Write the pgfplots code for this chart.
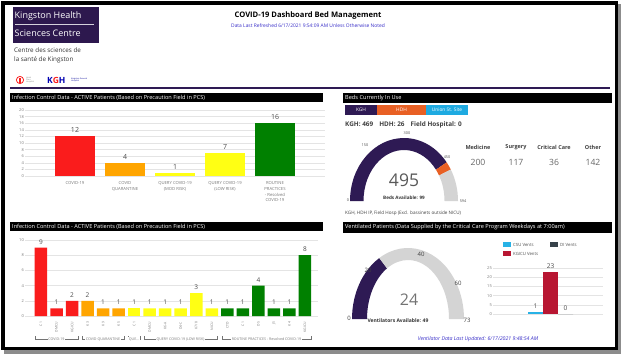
\documentclass[border=0pt]{standalone}
\usepackage{pgfplots}
\pgfplotsset{compat=1.18}
\usepackage{fontspec}
\setmainfont{Open Sans}
\definecolor{kpurple}{RGB}{46,26,84}
\definecolor{logopurple}{RGB}{45,24,78}
\definecolor{hdh}{RGB}{232,96,36}
\definecolor{union}{RGB}{30,170,225}
\definecolor{cRed}{RGB}{250,28,28}
\definecolor{cOrange}{RGB}{255,165,0}
\definecolor{cYellow}{RGB}{255,255,20}
\definecolor{cGreen}{RGB}{0,128,0}
\definecolor{gaugegray}{RGB}{212,212,212}
\definecolor{ventred}{RGB}{184,22,50}
\definecolor{csu}{RGB}{40,178,230}
\definecolor{di}{RGB}{55,66,74}
\definecolor{linkblue}{RGB}{55,45,200}
\definecolor{ticklab}{RGB}{120,120,120}
\definecolor{gridc}{RGB}{228,228,228}
\newcommand\fs[1]{\fontsize{#1}{#1}\selectfont}
\newcommand\gband[7]{\fill[#7] (#1:#3pt and #4pt) arc[start angle=#1, end angle=#2, x radius=#3pt, y radius=#4pt] -- (#2:#5pt and #6pt) arc[start angle=#2, end angle=#1, x radius=#5pt, y radius=#6pt] -- cycle;}
\pgfplotsset{dashax/.style={scale only axis, axis line style={draw=none}, tick style={draw=none},
  ymajorgrids, grid style={gridc, line width=0.4pt},
  yticklabel style={font=\fs{4}, text=ticklab, inner sep=1pt},
  /pgf/number format/assume math mode=true, ybar, clip=false,
  every node near coord/.append style={text=black!70}}}
\begin{document}
\begin{tikzpicture}[x=1pt,y=1pt]
\useasboundingbox (0,0) rectangle (624,360);
\fill[white] (0,0) rectangle (624,360);
% frame with shadow
\fill[black!45] (4,6) rectangle (621,356);
\fill[black] (1,10) rectangle (618,359);
\fill[white] (4.5,13.5) rectangle (614.5,355.5);
% logo
\fill[logopurple] (13,317) rectangle (99,353);
\node[anchor=west, text=white, font=\fs{9}, inner sep=0] at (14.5,344) {Kingston Health};
\draw[white!80!logopurple, line width=0.5] (15,335.5) -- (94,335.5);
\node[anchor=west, text=white, font=\fs{9}, inner sep=0] at (14.5,326.5) {Sciences Centre};
\node[anchor=west, text=black!80, font=\fs{6.3}, inner sep=0] at (14,310) {Centre des sciences de};
\node[anchor=west, text=black!80, font=\fs{6.3}, inner sep=0] at (14,300) {la santé de Kingston};
\draw[cRed, line width=0.8] (20,280) circle (3.6);
\fill[cRed] (19,277.5) rectangle (21,282);
\node[anchor=west, text=black!50, font=\fs{2}, align=left, inner sep=0] at (26,280) {Hotel\\Dieu\\Hospital};
\node[anchor=west, font=\bfseries\fs{8.5}, inner sep=0] at (47,280) {\textcolor{blue!70!black}{K}\textcolor{cRed}{G}\textcolor{blue!70!black}{H}};
\node[anchor=west, text=blue!60!black, font=\fs{2}, align=left, inner sep=0] at (71,280) {Kingston General\\Hospital};
% title
\node[font=\bfseries\fs{7.6}] at (308,344) {COVID-19 Dashboard Bed Management};
\node[font=\fs{4.9}, text=linkblue] at (308,334) {Data Last Refreshed 6/17/2021 9:54:09 AM Unless Otherwise Noted};
\draw[kpurple, line width=1.5] (10,272) -- (610,272);
% headers
\fill[black] (10,258) rectangle (323,267);
\node[anchor=west, text=white, font=\fs{5.6}, inner sep=0] at (12,262.5) {Infection Control Data - ACTIVE Patients (Based on Precaution Field in PCS)};
\fill[black] (10,129) rectangle (323,138);
\node[anchor=west, text=white, font=\fs{5.6}, inner sep=0] at (12,133.5) {Infection Control Data - ACTIVE Patients (Based on Precaution Field in PCS)};
\fill[black] (343,257) rectangle (612,267);
\node[anchor=west, text=white, font=\fs{5.6}, inner sep=0] at (345,262) {Beds Currently In Use};
\fill[black] (343,127) rectangle (612,138);
\node[anchor=west, text=white, font=\fs{5.6}, inner sep=0] at (345,132.5) {Ventilated Patients (Data Supplied by the Critical Care Program Weekdays at 7:00am)};
% site buttons
\fill[kpurple] (345,245) rectangle (377,255);
\node[text=white, font=\fs{4.8}] at (361,250) {KGH};
\fill[hdh] (377,245) rectangle (426,255);
\node[text=white, font=\fs{4.8}] at (401.5,250) {HDH};
\fill[union] (426,245) rectangle (468,255);
\node[text=white, font=\fs{4.8}] at (447,250) {Union St. Site};
\node[anchor=west, font=\bfseries\fs{6.4}, text=black!75, inner sep=0] at (345,235) {KGH: 469\hspace{6pt}HDH: 26\hspace{6pt}Field Hospital: 0};
% service cards
\foreach \xx/\lab/\val in {478/Medicine/200, 516/Surgery/117, 554/Critical Care/36, 593/Other/142}{
  \node[font=\bfseries\fs{5.5}, text=black!75] at (\xx,213) {\lab};
  \node[font=\fs{8.6}, text=black!60] at (\xx,198) {\val};
}
\node[anchor=west, font=\fs{4.6}, text=black!75, inner sep=0] at (345,147) {KGH, HDH IP, Field Hosp (Excl. bassinets outside NICU)};
\node[font=\itshape\fs{5.2}, text=linkblue] at (478,21) {Ventilator Data Last Updated: 6/17/2021 9:48:54 AM};

% ---------- top-left bar chart
\begin{axis}[dashax, at={(25pt,184pt)}, anchor=south west, width=300pt, height=66pt,
  xmin=-1, xmax=5, ymin=0, ymax=20, ytick={0,2,...,20}, xtick={0,...,4},
  bar width=40pt,
  xticklabels={COVID-19, {COVID\\QUARANTINE}, {QUERY COVID-19\\(MOD RISK)}, {QUERY COVID-19\\(LOW RISK)}, {ROUTINE\\PRACTICES\\- Resolved\\COVID-19}},
  xticklabel style={align=center, font=\fontsize{4.2}{5.8}\selectfont, text=ticklab, anchor=north, inner sep=1pt},
  nodes near coords, every node near coord/.append style={font=\fs{7}}]
\addplot[fill=cRed, draw=none, bar shift=0pt] coordinates {(0,12)};
\addplot[fill=cOrange, draw=none, bar shift=0pt] coordinates {(1,4)};
\addplot[fill=cYellow, draw=none, bar shift=0pt] coordinates {(2,1)};
\addplot[fill=cYellow, draw=none, bar shift=0pt] coordinates {(3,7)};
\addplot[fill=cGreen, draw=none, bar shift=0pt] coordinates {(4,16)};
\end{axis}

% ---------- bottom-left bar chart
\begin{axis}[dashax, at={(25pt,44pt)}, anchor=south west, width=293pt, height=76pt,
  xmin=-1.03, xmax=17.84, ymin=0, ymax=10, ytick={0,2,...,10}, xtick={0,...,17},
  bar width=12.5pt,
  xticklabels={C1, DMCU, KGICU, K3, K9, K5, C1, DMCU, K6-A, D4-C, K7/8, NICU, CTD, C1, D5, J5, K4, KGICU},
  xticklabel style={rotate=90, anchor=east, font=\fs{3.4}, text=ticklab, inner sep=1.5pt},
  nodes near coords, every node near coord/.append style={font=\fs{6.5}}]
\addplot[fill=cRed, draw=none, bar shift=0pt] coordinates {(0,9)(1,1)(2,2)};
\addplot[fill=cOrange, draw=none, bar shift=0pt] coordinates {(3,2)(4,1)(5,1)};
\addplot[fill=cYellow, draw=none, bar shift=0pt] coordinates {(6,1)};
\addplot[fill=cYellow, draw=none, bar shift=0pt] coordinates {(7,1)(8,1)(9,1)(10,3)(11,1)};
\addplot[fill=cGreen, draw=none, bar shift=0pt] coordinates {(12,1)(13,1)(14,4)(15,1)(16,1)(17,8)};
\end{axis}
% group brackets
\foreach \xa/\xb/\txt in {35/78/{COVID-19}, 82/124/{COVID QUARANTINE}, 128/140/{QUE...}, 144/217/{QUERY COVID-19 (LOW RISK)}, 222/311/{ROUTINE PRACTICES - Resolved COVID-19}}{
  \draw[black!55, line width=0.5] (\xa,24) -- (\xa,21) -- (\xb,21) -- (\xb,24);
  \node[fill=white, inner sep=0.8pt, font=\fs{3.6}, text=ticklab] at ({(\xa+\xb)/2},21) {\txt};
}

% ---------- beds gauge
\pgfmathsetmacro\aK{180-469/594*180}
\pgfmathsetmacro\aT{180-495/594*180}
\begin{axis}[hide axis, scale only axis, clip=false, at={(344pt,149pt)}, anchor=south west,
  width=120pt, height=80pt, xmin=-60, xmax=60, ymin=-10, ymax=70]
\begin{scope}[shift={(axis cs:0,0)}]
\gband{180}{\aK}{54}{63}{40.5}{51}{kpurple}
\gband{\aK}{\aT}{54}{63}{40.5}{51}{hdh}
\gband{\aT}{0}{54}{63}{40.5}{51}{gaugegray}
\end{scope}
\node[font=\fs{3.8}, text=black!70] at (axis cs:-56,1) {0};
\node[font=\fs{3.8}, text=black!70] at (axis cs:-39,56) {150};
\node[font=\fs{3.8}, text=black!70] at (axis cs:3,68) {300};
\node[font=\fs{3.8}, text=black!70] at (axis cs:43,44) {450};
\node[font=\fs{3.8}, text=black!70] at (axis cs:59,0) {594};
\node[font=\fs{17.5}, text=black!65] at (axis cs:0,21) {495};
\node[font=\bfseries\fs{4.6}, text=black!80] at (axis cs:0,3) {Beds Available: 99};
\end{axis}

% ---------- ventilator gauge
\pgfmathsetmacro\aV{180-24/73*180}
\begin{axis}[hide axis, scale only axis, clip=false, at={(348pt,31pt)}, anchor=south west,
  width=120pt, height=90pt, xmin=-60, xmax=60, ymin=-10, ymax=80]
\begin{scope}[shift={(axis cs:0,0)}]
\gband{180}{\aV}{56}{71}{41}{59}{kpurple}
\gband{\aV}{0}{56}{71}{41}{59}{gaugegray}
\end{scope}
\node[font=\fs{6}, text=black!75] at (axis cs:-59,1) {0};
\node[font=\fs{6}, text=black!75] at (axis cs:-40,49) {20};
\node[font=\fs{6}, text=black!75] at (axis cs:13,65) {40};
\node[font=\fs{6}, text=black!75] at (axis cs:50,36) {60};
\node[font=\fs{6}, text=black!75] at (axis cs:59,-1) {73};
\node[font=\fs{16}, text=black!55] at (axis cs:1,19) {24};
\node[font=\bfseries\fs{5}, text=black!80] at (axis cs:-10,-2) {Ventilators Available: 49};
\end{axis}

% ---------- ventilator bar chart
\begin{axis}[dashax, at={(493pt,46pt)}, anchor=south west, width=110pt, height=46pt,
  xmin=-57.5, xmax=52.5, ymin=0, ymax=25, ytick={0,5,...,25}, xtick=\empty,
  bar width=15pt, nodes near coords, every node near coord/.append style={font=\fs{6.5}}]
\addplot[fill=csu, draw=none, bar shift=-15pt] coordinates {(0,1)};
\addplot[fill=ventred, draw=none, bar shift=0pt] coordinates {(0,23)};
\addplot[fill=di, draw=none, bar shift=15pt] coordinates {(0,0)};
\end{axis}
\fill[csu] (503,113) rectangle (511,118);
\node[anchor=west, font=\fs{4.3}, text=black!70, inner sep=0] at (513,115.5) {CSU Vents};
\fill[di] (550,113) rectangle (558,118);
\node[anchor=west, font=\fs{4.3}, text=black!70, inner sep=0] at (560,115.5) {DI Vents};
\fill[ventred] (503,104) rectangle (511,109);
\node[anchor=west, font=\fs{4.3}, text=black!70, inner sep=0] at (513,106.5) {KGICU Vents};
\end{tikzpicture}
\end{document}
